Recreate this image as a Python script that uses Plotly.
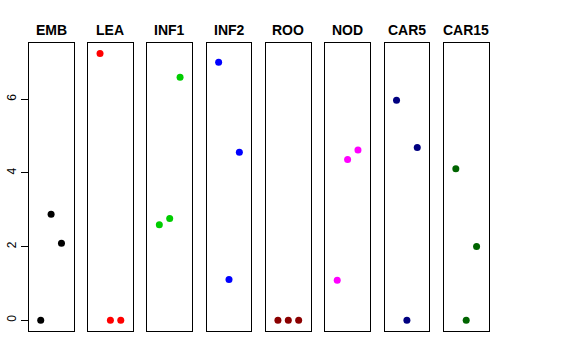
import plotly.graph_objects as go

panels = ["EMB", "LEA", "INF1", "INF2", "ROO", "NOD", "CAR5", "CAR15"]
colors = ["#000000", "#FF0000", "#00CD00", "#0000FF", "#8B0000", "#FF00FF", "#000080", "#006400"]
x_pos = [1, 2, 3]
values = {
    "EMB":   [0.0, 2.88, 2.09],
    "LEA":   [7.24, 0.0, 0.0],
    "INF1":  [2.59, 2.76, 6.59],
    "INF2":  [7.00, 1.11, 4.56],
    "ROO":   [0.0, 0.0, 0.0],
    "NOD":   [1.09, 4.36, 4.62],
    "CAR5":  [5.97, 0.0, 4.69],
    "CAR15": [4.11, 0.0, 2.00],
}
y_ticks = [0, 2, 4, 6]

W, H = 576, 360
allv = [v for k in panels for v in values[k]]
ymin, ymax = min(allv), max(allv)
pad = 0.04 * (ymax - ymin)
yr = [ymin - pad, ymax + pad]
xr = [0 - 0.16, 4 + 0.16]

fig = go.Figure()
left0, step, width = 28.7, 59.3, 44.8
top_px, bot_px = 42.7, 331.0

layout = dict(width=W, height=H, margin=dict(l=0, r=0, t=0, b=0, autoexpand=False),
              paper_bgcolor="white", plot_bgcolor="white", showlegend=False,
              font=dict(family="Liberation Sans, Arial, sans-serif", color="black"))
annotations = []
for i, (name, col) in enumerate(zip(panels, colors)):
    n = "" if i == 0 else str(i + 1)
    x0 = (left0 + i * step) / W
    x1 = (left0 + i * step + width) / W
    fig.add_trace(go.Scatter(x=x_pos, y=values[name], mode="markers",
                             marker=dict(color=col, size=7),
                             xaxis="x" + n, yaxis="y" + n, hoverinfo="skip"))
    layout["xaxis" + n] = dict(domain=[x0, x1], range=xr, showgrid=False, zeroline=False,
                               showticklabels=False, ticks="", showline=True, mirror=True,
                               linecolor="black", linewidth=1, anchor="y" + n,
                               automargin=False)
    ya = dict(domain=[1 - bot_px / H, 1 - top_px / H], range=yr, showgrid=False, zeroline=False,
              showline=True, mirror=True, linecolor="black", linewidth=1, anchor="x" + n,
              automargin=False)
    if i == 0:
        ya.update(tickvals=y_ticks, ticktext=[str(t) for t in y_ticks], ticks="outside",
                  ticklen=7, tickcolor="black", tickwidth=1, tickangle=-90,
                  tickfont=dict(size=12, color="black"))
    else:
        ya.update(showticklabels=False, ticks="")
    layout["yaxis" + n] = ya
    annotations.append(dict(text="<b>" + name + "</b>", x=(x0 + x1) / 2, y=1 - 30 / H,
                            xref="paper", yref="paper", showarrow=False,
                            xanchor="center", yanchor="middle",
                            font=dict(size=14, color="black")))
layout["annotations"] = annotations
fig.update_layout(**layout)
fig.write_html("out.html", config={"displayModeBar": False})

with open("out.html", "r", encoding="utf-8") as f:
    html = f.read()
html = html.replace("<head>", "<head><style>html,body{margin:0;padding:0;}</style>", 1)
with open("out.html", "w", encoding="utf-8") as f:
    f.write(html)
